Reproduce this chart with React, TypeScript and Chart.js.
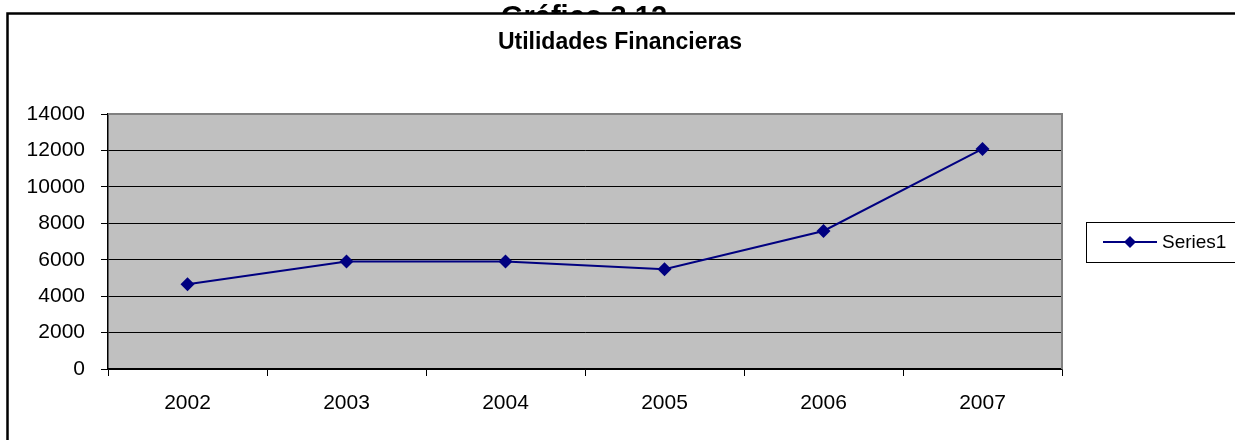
import React, { useEffect, useRef } from "react";
import { Chart, registerables } from "chart.js";

Chart.register(...registerables);

const categories = ["2002", "2003", "2004", "2005", "2006", "2007"];
const series1 = [4650, 5900, 5900, 5480, 7580, 12080];
const seriesName = "Series1";
const pageTitle = "Gráfico 3.12";
const chartTitle = "Utilidades Financieras";

const W = 1235;
const H = 440;
const NAVY = "#000080";
const FONT = "Arial, 'Liberation Sans', sans-serif";

function drawDiamond(ctx: CanvasRenderingContext2D, x: number, y: number, r: number) {
  ctx.beginPath();
  ctx.moveTo(x, y - r);
  ctx.lineTo(x + r, y);
  ctx.lineTo(x, y + r);
  ctx.lineTo(x - r, y);
  ctx.closePath();
  ctx.fill();
}

const framePlugin = {
  id: "frameDecor",
  beforeDraw(chart: any) {
    const ctx = chart.ctx as CanvasRenderingContext2D;
    ctx.save();
    ctx.fillStyle = "#fff";
    ctx.fillRect(0, 0, W, H);
    // page title, partly hidden behind the chart box
    ctx.fillStyle = "#000";
    ctx.font = `bold 29px ${FONT}`;
    ctx.textAlign = "center";
    ctx.textBaseline = "alphabetic";
    ctx.fillText(pageTitle, 584, 26);
    // chart box
    ctx.fillStyle = "#fff";
    ctx.fillRect(8, 13, W, H);
    ctx.strokeStyle = "#000";
    ctx.lineWidth = 2.5;
    ctx.beginPath();
    ctx.moveTo(7.5, H + 5);
    ctx.lineTo(7.5, 13.5);
    ctx.lineTo(W + 5, 13.5);
    ctx.stroke();
    // chart title
    ctx.fillStyle = "#000";
    ctx.font = `bold 23px ${FONT}`;
    ctx.textBaseline = "middle";
    ctx.fillText(chartTitle, 620, 43);
    // plot background
    const a = chart.chartArea;
    ctx.fillStyle = "#C0C0C0";
    ctx.fillRect(a.left, a.top, a.right - a.left, a.bottom - a.top);
    ctx.restore();
  },
  afterDatasetsDraw(chart: any) {
    const ctx = chart.ctx as CanvasRenderingContext2D;
    const a = chart.chartArea;
    ctx.save();
    ctx.strokeStyle = "#808080";
    ctx.lineWidth = 2;
    ctx.beginPath();
    ctx.moveTo(a.left, a.top);
    ctx.lineTo(a.right, a.top);
    ctx.lineTo(a.right, a.bottom);
    ctx.stroke();
    ctx.restore();
  },
  afterDraw(chart: any) {
    const ctx = chart.ctx as CanvasRenderingContext2D;
    ctx.save();
    ctx.strokeStyle = "#000";
    ctx.lineWidth = 1;
    ctx.strokeRect(1086.5, 222.5, 150, 40);
    const ly = 242;
    ctx.strokeStyle = NAVY;
    ctx.lineWidth = 2;
    ctx.beginPath();
    ctx.moveTo(1103, ly);
    ctx.lineTo(1157, ly);
    ctx.stroke();
    ctx.fillStyle = NAVY;
    drawDiamond(ctx, 1130, ly, 6);
    ctx.fillStyle = "#000";
    ctx.font = `19px ${FONT}`;
    ctx.textAlign = "left";
    ctx.textBaseline = "middle";
    ctx.fillText(seriesName, 1162, ly + 1);
    ctx.restore();
  },
};

export default function App() {
  const ref = useRef<HTMLCanvasElement | null>(null);

  useEffect(() => {
    if (!ref.current) return;
    const chart = new Chart(ref.current, {
      type: "line",
      data: {
        labels: categories,
        datasets: [
          {
            label: seriesName,
            data: series1,
            borderColor: NAVY,
            backgroundColor: NAVY,
            borderWidth: 2,
            pointStyle: "rectRot",
            pointRadius: 7,
            pointHoverRadius: 7,
            pointBackgroundColor: NAVY,
            pointBorderColor: NAVY,
            pointBorderWidth: 0,
            tension: 0,
          },
        ],
      },
      options: {
        animation: false,
        responsive: false,
        events: [],
        layout: { padding: { left: 0, right: 173, top: 114, bottom: 0 } },
        plugins: {
          legend: { display: false },
          title: { display: false },
          tooltip: { enabled: false },
        },
        scales: {
          x: {
            type: "category",
            offset: true,
            grid: {
              offset: true,
              drawOnChartArea: false,
              drawTicks: true,
              tickLength: 7,
              color: "#000",
            },
            border: { display: true, color: "#000", width: 1.5 },
            ticks: {
              color: "#000",
              font: { family: FONT, size: 21 },
              padding: 15,
              maxRotation: 0,
            },
            afterFit: (s: any) => {
              s.height = 71;
            },
          },
          y: {
            min: 0,
            max: 14000,
            ticks: {
              stepSize: 2000,
              color: "#000",
              font: { family: FONT, size: 21 },
              padding: 16,
              callback: (v: any) => String(v),
            },
            grid: {
              color: "#000",
              lineWidth: 1,
              tickLength: 7,
            },
            border: { display: true, color: "#000", width: 1.5 },
            afterFit: (s: any) => {
              s.width = 108;
            },
          },
        },
      },
      plugins: [framePlugin],
    });
    return () => chart.destroy();
  }, []);

  return (
    <div style={{ position: "absolute", left: 0, top: 0, width: W, height: H }}>
      <canvas ref={ref} width={W} height={H} style={{ display: "block" }} />
    </div>
  );
}
